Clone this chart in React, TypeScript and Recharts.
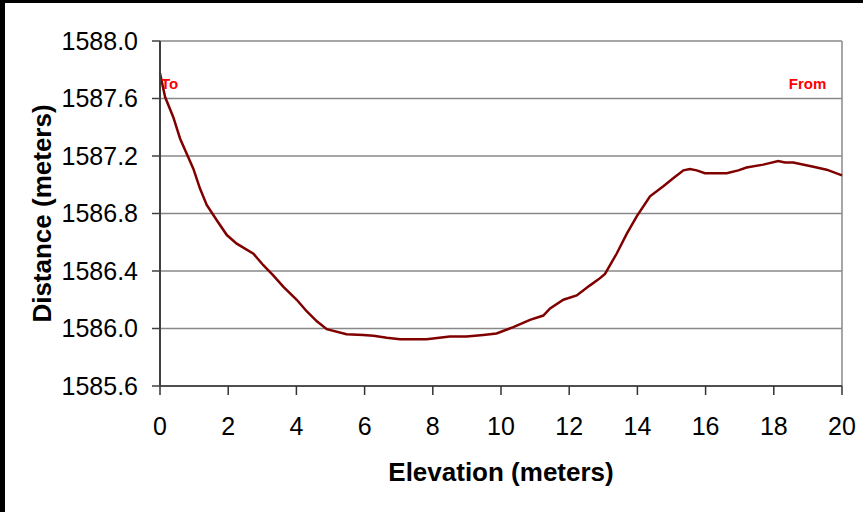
import React from 'react';
import { LineChart, Line, XAxis, YAxis, CartesianGrid, ReferenceLine, ReferenceDot, Label } from 'recharts';

// profile (x = elevation, y = distance)
const elevation = [
  0, 0.15, 0.39, 0.59, 0.98, 1.17, 1.37, 1.66, 1.96, 2.25, 2.74, 3.03, 3.32, 3.62, 4.01, 4.3, 4.6, 4.89,
  5.47, 5.96, 6.26, 6.65, 7.04, 7.82, 8.5, 8.99, 9.48, 9.87, 10.36, 10.85, 11.24, 11.44, 11.83, 12.22,
  12.61, 12.85, 13.05, 13.39, 13.69, 13.98, 14.37, 14.76, 15.05, 15.35, 15.54, 15.74, 15.98, 16.62,
  16.96, 17.2, 17.69, 18.13, 18.33, 18.57, 19.16, 19.55, 20,
];
const distance = [
  1587.775, 1587.61, 1587.47, 1587.32, 1587.11, 1586.975, 1586.86, 1586.755, 1586.65, 1586.59, 1586.52,
  1586.44, 1586.37, 1586.29, 1586.2, 1586.12, 1586.05, 1585.995, 1585.96, 1585.955, 1585.95, 1585.935,
  1585.925, 1585.925, 1585.945, 1585.945, 1585.955, 1585.965, 1586.01, 1586.06, 1586.09, 1586.14,
  1586.2, 1586.23, 1586.3, 1586.34, 1586.38, 1586.52, 1586.66, 1586.78, 1586.92, 1586.99, 1587.045,
  1587.1, 1587.11, 1587.1, 1587.08, 1587.08, 1587.1, 1587.12, 1587.14, 1587.165, 1587.155, 1587.155,
  1587.125, 1587.105, 1587.065,
];
const xTicks = [0, 2, 4, 6, 8, 10, 12, 14, 16, 18, 20];
const yTicks = [1585.6, 1586.0, 1586.4, 1586.8, 1587.2, 1587.6, 1588.0];

const markers = [
  { x: 0, y: 1587.7, text: 'To' },
  { x: 18.41, y: 1587.7, text: 'From' },
];

const data = elevation.map((x, i) => ({ x, y: distance[i] }));

const FONT = '"Liberation Sans", Arial, sans-serif';
const tickStyle = { fontSize: 25, fill: '#000', fontFamily: FONT };

const YTitle = (props: any) => {
  const vb = props.viewBox;
  const cx = vb.x - 18;
  const cy = vb.y + vb.height / 2;
  return (
    <text
      x={cx}
      y={cy}
      transform={`rotate(-90 ${cx} ${cy})`}
      textAnchor="middle"
      dominantBaseline="central"
      fontSize={26}
      fontWeight="bold"
      fontFamily={FONT}
      fill="#000"
    >
      Distance (meters)
    </text>
  );
};

export default function App() {
  return (
    <div style={{ position: 'absolute', left: 0, top: 0, width: 863, height: 512, background: '#000' }}>
      <div style={{ position: 'absolute', left: 5, top: 3, width: 858, height: 509, background: '#fff' }} />
      <div style={{ position: 'absolute', left: 0, top: 0 }}>
        <LineChart width={863} height={512} data={data} margin={{ top: 41, right: 21, bottom: 16, left: 60 }}>
          <CartesianGrid vertical={false} stroke="#888" strokeWidth={1.5} />
          <XAxis
            type="number"
            dataKey="x"
            domain={[0, 20]}
            ticks={xTicks}
            interval={0}
            height={110}
            tickSize={9}
            tickMargin={22}
            tick={tickStyle}
            axisLine={{ stroke: '#333', strokeWidth: 1.5 }}
            tickLine={{ stroke: '#333', strokeWidth: 1.5 }}
          >
            <Label
              value="Elevation (meters)"
              position="insideBottom"
              offset={15}
              fontSize={26}
              fontWeight="bold"
              fontFamily={FONT}
              fill="#000"
            />
          </XAxis>
          <YAxis
            type="number"
            domain={[1585.6, 1588.0]}
            ticks={yTicks}
            interval={0}
            width={100}
            tickSize={8}
            tickMargin={14}
            tick={tickStyle}
            tickFormatter={(v: number) => v.toFixed(1)}
            axisLine={{ stroke: '#404040', strokeWidth: 2 }}
            tickLine={{ stroke: '#404040', strokeWidth: 1.5 }}
          >
            <Label content={YTitle} />
          </YAxis>
          <ReferenceLine x={20} stroke="#888" strokeWidth={1.5} />
          <Line
            type="linear"
            dataKey="y"
            stroke="#800000"
            strokeWidth={2.5}
            dot={false}
            activeDot={false}
            isAnimationActive={false}
          />
          {markers.map((m) => (
            <ReferenceDot
              key={m.text}
              x={m.x}
              y={m.y}
              r={0}
              stroke="none"
              fill="none"
              label={{
                value: m.text,
                position: 'right',
                offset: 1,
                fill: '#FF0000',
                fontSize: 15,
                fontWeight: 'bold',
                fontFamily: FONT,
              }}
            />
          ))}
        </LineChart>
      </div>
    </div>
  );
}
